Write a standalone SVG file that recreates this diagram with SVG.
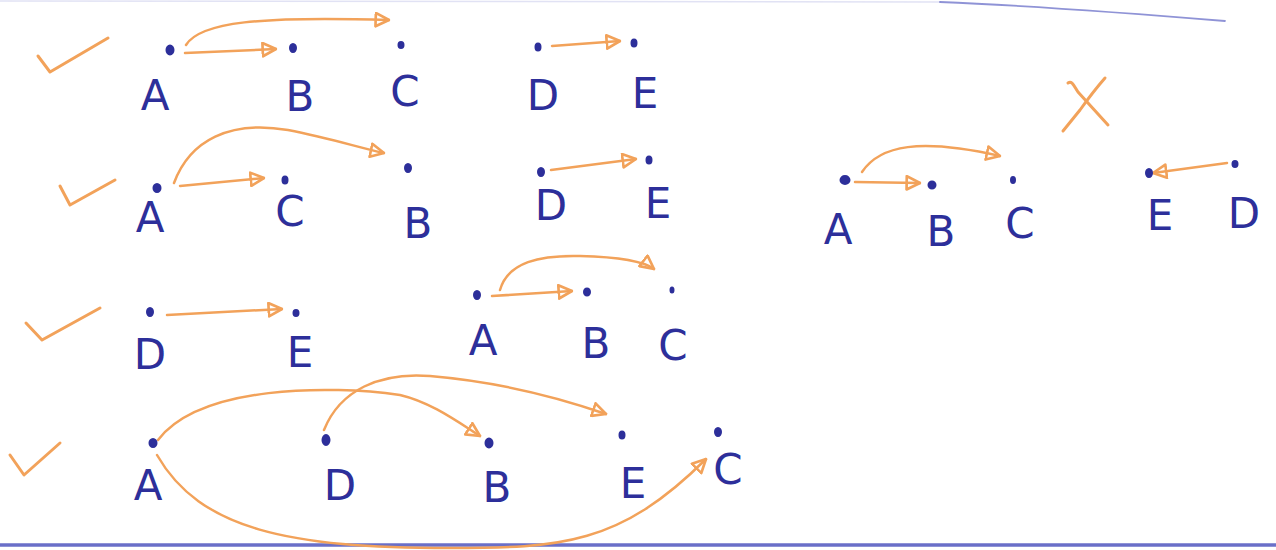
<svg xmlns="http://www.w3.org/2000/svg" width="1276" height="550" viewBox="0 0 1276 550">
<style>
.dot{fill:#2d2f9a;stroke:#2d2f9a;stroke-width:2}
.lbl{font-family:"DejaVu Sans","Liberation Sans",sans-serif;font-size:42px;fill:#2d2f9a;text-anchor:middle;font-weight:normal}
.arr{fill:none;stroke:#f2a25a;stroke-width:2.5;stroke-linecap:round;marker-end:url(#ah)}
.mark{fill:none;stroke:#f2a25a;stroke-width:3;stroke-linecap:round;stroke-linejoin:round}
.rule{fill:none;stroke:#6a6fc8;stroke-linecap:round}
</style>
<defs>
<marker id="ah" viewBox="0 0 12 12" refX="11" refY="6" markerWidth="16" markerHeight="16" markerUnits="userSpaceOnUse" orient="auto">
<path d="M1,1 L11,6 L1,11 Z" fill="none" stroke="#f2a25a" stroke-width="2" stroke-linejoin="round"/>
</marker>
</defs>
<rect width="1276" height="550" fill="#ffffff"/>
<g id="rules">
<path class="rule" d="M0,1 L940,2" stroke-width="1.5" opacity="0.2"/>
<path class="rule" d="M940,2 C1040,6 1140,14 1225,21" stroke-width="1.8" opacity="0.75"/>
<path class="rule" d="M0,545 L1276,545" stroke-width="3.5"/>
</g>
<g id="marks">
<path class="mark" d="M38,56 L50,72 L108,38"/>
<path class="mark" d="M60,186 L70,205 L115,180"/>
<path class="mark" d="M26,323 L42,340 L100,308"/>
<path class="mark" d="M10,455 L24,475 L60,443"/>
<path class="mark" d="M1063,131 L1080,110 C1090,96 1098,86 1105,78"/>
<path class="mark" d="M1068,83 C1072,80 1074,86 1078,92 L1108,125"/>
</g>
<g id="connectors">
<path class="arr" d="M185,53 L276,49"/>
<path class="arr" d="M186,45 C200,22 260,16 389,20"/>
<path class="arr" d="M552,46 L620,41"/>
<path class="arr" d="M180,186 L264,178"/>
<path class="arr" d="M174,183 C190,140 230,120 288,130 C330,138 360,148 384,153"/>
<path class="arr" d="M551,170 L636,159"/>
<path class="arr" d="M167,315 L282,309"/>
<path class="arr" d="M492,296 L572,291"/>
<path class="arr" d="M500,290 C508,262 540,255 580,256 C620,257 645,262 654,269"/>
<path class="arr" d="M158,440 C200,385 330,385 400,395 C430,402 455,420 480,436"/>
<path class="arr" d="M324,430 C340,390 380,372 430,376 C500,382 560,398 606,414"/>
<path class="arr" d="M157,455 C200,530 290,548 450,548 C560,548 620,545 706,459"/>
<path class="arr" d="M855,182 L920,183"/>
<path class="arr" d="M862,172 C880,145 920,138 1000,156"/>
<path class="arr" d="M1227,163 L1153,173"/>
</g>
<g id="row1-A"><ellipse class="dot" cx="170" cy="50" rx="3.5" ry="4.5"/><text class="lbl" x="155" y="110">A</text></g>
<g id="row1-B"><ellipse class="dot" cx="293" cy="48" rx="3" ry="4"/><text class="lbl" x="300" y="111">B</text></g>
<g id="row1-C"><ellipse class="dot" cx="401" cy="45" rx="2.5" ry="3"/><text class="lbl" x="405" y="106">C</text></g>
<g id="row1-D"><ellipse class="dot" cx="538" cy="47" rx="2.5" ry="3.5"/><text class="lbl" x="543" y="110">D</text></g>
<g id="row1-E"><ellipse class="dot" cx="634" cy="43" rx="2.5" ry="3.5"/><text class="lbl" x="645" y="108">E</text></g>
<g id="row2-A"><ellipse class="dot" cx="157" cy="188" rx="3.5" ry="4"/><text class="lbl" x="150" y="232">A</text></g>
<g id="row2-C"><ellipse class="dot" cx="285" cy="180" rx="2.5" ry="3.5"/><text class="lbl" x="290" y="226">C</text></g>
<g id="row2-B"><ellipse class="dot" cx="408" cy="168" rx="3" ry="4"/><text class="lbl" x="418" y="238">B</text></g>
<g id="row2-D"><ellipse class="dot" cx="541" cy="172" rx="3" ry="4"/><text class="lbl" x="551" y="220">D</text></g>
<g id="row2-E"><ellipse class="dot" cx="649" cy="160" rx="2.5" ry="3.5"/><text class="lbl" x="658" y="218">E</text></g>
<g id="row3-D"><ellipse class="dot" cx="150" cy="312" rx="3" ry="4"/><text class="lbl" x="150" y="369">D</text></g>
<g id="row3-E"><ellipse class="dot" cx="296" cy="313" rx="2.5" ry="3"/><text class="lbl" x="300" y="367">E</text></g>
<g id="row3-A"><ellipse class="dot" cx="477" cy="295" rx="3" ry="4"/><text class="lbl" x="483" y="355">A</text></g>
<g id="row3-B"><ellipse class="dot" cx="587" cy="292" rx="3" ry="3.5"/><text class="lbl" x="596" y="358">B</text></g>
<g id="row3-C"><ellipse class="dot" cx="672" cy="290" rx="1.5" ry="2.5"/><text class="lbl" x="673" y="360">C</text></g>
<g id="row4-A"><ellipse class="dot" cx="153" cy="443" rx="3.5" ry="4"/><text class="lbl" x="148" y="500">A</text></g>
<g id="row4-D"><ellipse class="dot" cx="326" cy="440" rx="3.5" ry="5"/><text class="lbl" x="340" y="500">D</text></g>
<g id="row4-B"><ellipse class="dot" cx="489" cy="443" rx="3.5" ry="4.5"/><text class="lbl" x="497" y="502">B</text></g>
<g id="row4-E"><ellipse class="dot" cx="622" cy="435" rx="2.5" ry="3.5"/><text class="lbl" x="633" y="498">E</text></g>
<g id="row4-C"><ellipse class="dot" cx="718" cy="432" rx="3" ry="4"/><text class="lbl" x="728" y="484">C</text></g>
<g id="x-A"><ellipse class="dot" cx="845" cy="180" rx="4.5" ry="4"/><text class="lbl" x="838" y="244">A</text></g>
<g id="x-B"><ellipse class="dot" cx="932" cy="185" rx="3.5" ry="3.5"/><text class="lbl" x="941" y="246">B</text></g>
<g id="x-C"><ellipse class="dot" cx="1013" cy="180" rx="2" ry="3"/><text class="lbl" x="1020" y="238">C</text></g>
<g id="x-E"><ellipse class="dot" cx="1149" cy="173" rx="3" ry="4"/><text class="lbl" x="1160" y="230">E</text></g>
<g id="x-D"><ellipse class="dot" cx="1235" cy="164" rx="2.5" ry="3"/><text class="lbl" x="1244" y="228">D</text></g>
</svg>
